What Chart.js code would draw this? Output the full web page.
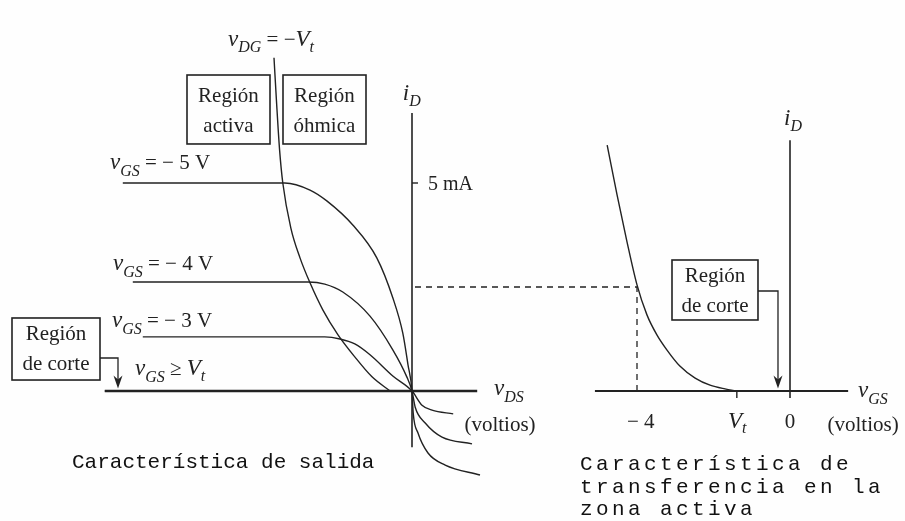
<!DOCTYPE html>
<html>
<head>
<meta charset="utf-8">
<script src="https://cdn.jsdelivr.net/npm/chart.js@4.4.1/dist/chart.umd.min.js"></script>
<style>
  html, body { margin: 0; padding: 0; background: #fefefe; }
  #c { display: block; }
</style>
</head>
<body>
<canvas id="c" width="905" height="521"></canvas>
<script>
/* Salida: iD (mA) frente a vDS (V) para cada vGS */
var vds5 = [-7.23, -3.18, -2.55, -2.13, -1.48, -0.88, -0.48, -0.23, -0.10, 0, 0.03, 0.15, 0.40, 0.83, 1.70];
var id5  = [ 5.00,  5.00,  4.83,  4.57,  3.99,  3.20,  2.24,  1.39,  0.63, 0, -0.53, -1.01, -1.49, -1.78, -2.02];
var vds4 = [-6.98, -2.60, -2.18, -1.73, -1.05, -0.48, -0.13, 0, 0.08, 0.33, 0.75, 1.50];
var id4  = [ 2.62,  2.62,  2.57,  2.38,  1.80,  0.99,  0.34, 0, -0.39, -0.77, -1.11, -1.27];
var vds3 = [-6.73, -2.18, -1.80, -1.43, -1.05, -0.48, 0, 0.25, 0.50, 1.03];
var id3  = [ 1.30,  1.30,  1.25,  1.13,  0.87,  0.36, 0, -0.34, -0.46, -0.55];
var vdsCorte = [-7.68, 0];
var idCorte  = [0, 0];

/* Frontera vDG = -Vt */
var vdsLim = [-3.45, -3.39, -3.31, -3.23, -3.03, -2.80, -2.55, -2.23, -1.85, -1.43, -1.00, -0.55];
var idLim  = [ 8.01,  7.00,  5.79,  5.00,  3.92,  3.20,  2.60,  1.95,  1.35,  0.82,  0.34, 0];

/* Transferencia: iD frente a vGS */
var vgsT = [-4.78, -4.52, -4.26, -4.00, -3.74, -3.48, -3.22, -2.88, -2.48, -2.09, -1.70, -1.39];
var idT  = [ 5.91,  4.71,  3.58,  2.55,  1.83,  1.35,  0.99,  0.60,  0.31,  0.14,  0.05, 0];
var Vt = -1.39;
var vgsMarca = -4;          // punto marcado con la discontinua
var idMarca = 2.50;

/* Extensión de los ejes dibujados */
var ejeSalidaX = [-7.68, 1.63];
var ejeSalidaY = [-1.35, 6.68];
var ejeTransfX = [-5.10, 1.52];
var ejeTransfY = [-0.17, 6.03];
var tick5mA = 5;

function pts(xs, ys) {
    return xs.map(function (x, i) { return { x: x, y: ys[i] }; });
}

var INK = '#222';
function curva(xs, ys, eje) {
    return {
        data: pts(xs, ys),
        xAxisID: eje,
        yAxisID: 'y',
        borderColor: INK,
        borderWidth: 1.4,
        pointRadius: 0,
        fill: false,
        cubicInterpolationMode: 'monotone'
    };
}
function recta(xs, ys, eje, ancho, dash) {
    return {
        data: pts(xs, ys),
        xAxisID: eje,
        yAxisID: 'y',
        borderColor: INK,
        borderWidth: ancho || 1.4,
        borderDash: dash || [],
        pointRadius: 0,
        fill: false,
        tension: 0
    };
}

var datasets = [
    recta(ejeSalidaX, [0, 0], 'xL', 2.4),
    recta([0, 0], ejeSalidaY, 'xL', 1.6),
    recta([0, 0.15], [tick5mA, tick5mA], 'xL', 1.4),
    recta(vdsCorte, idCorte, 'xL', 1.4),
    curva(vds5, id5, 'xL'),
    curva(vds4, id4, 'xL'),
    curva(vds3, id3, 'xL'),
    curva(vdsLim, idLim, 'xL'),
    recta(ejeTransfX, [0, 0], 'xR', 1.8),
    recta([0, 0], ejeTransfY, 'xR', 1.6),
    recta([Vt, Vt], [0, -0.17], 'xR', 1.4),
    recta([vgsMarca, vgsMarca], [0, idMarca], 'xR', 1.3, [6, 5]),
    curva(vgsT, idT, 'xR')
];

var SERIF = '"Liberation Serif", "DejaVu Serif", serif';
var VAR = 'italic 23px ' + SERIF;
var SUB = 'italic 16px ' + SERIF;
var ROM = '21px ' + SERIF;
var MONO = '21px "Liberation Mono", monospace';

function rico(ctx, x, y, partes, centro) {
    var w = 0;
    partes.forEach(function (p) { ctx.font = p[1]; w += ctx.measureText(p[0]).width; });
    var cx = centro ? x - w / 2 : x;
    partes.forEach(function (p) {
        ctx.font = p[1];
        ctx.fillText(p[0], cx, y + (p[2] || 0));
        cx += ctx.measureText(p[0]).width;
    });
}

function flecha(ctx, x0, y0, x1, y1) {
    ctx.beginPath();
    ctx.moveTo(x0, y0); ctx.lineTo(x1, y0); ctx.lineTo(x1, y1 - 8);
    ctx.stroke();
    ctx.beginPath();
    ctx.moveTo(x1, y1); ctx.lineTo(x1 - 4.5, y1 - 13); ctx.lineTo(x1, y1 - 9); ctx.lineTo(x1 + 4.5, y1 - 13);
    ctx.closePath(); ctx.fill();
}

var anotaciones = {
    id: 'anotaciones',
    afterDatasetsDraw: function (chart) {
        var ctx = chart.ctx;
        var xL = chart.scales.xL, xR = chart.scales.xR, y = chart.scales.y;
        function L(v) { return xL.getPixelForValue(v); }
        function R(v) { return xR.getPixelForValue(v); }
        function Y(v) { return y.getPixelForValue(v); }
        ctx.save();
        ctx.fillStyle = INK;
        ctx.strokeStyle = INK;
        ctx.textBaseline = 'alphabetic';

        // discontinua horizontal entre los dos paneles
        ctx.lineWidth = 1.3;
        ctx.setLineDash([6, 5]);
        ctx.beginPath();
        ctx.moveTo(L(0) + 3, Y(idMarca));
        ctx.lineTo(R(vgsMarca), Y(idMarca));
        ctx.stroke();
        ctx.setLineDash([]);

        // recuadros
        ctx.lineWidth = 1.6;
        ctx.strokeRect(L(-5.625), Y(7.596), L(-3.55) - L(-5.625), Y(5.938) - Y(7.596));
        ctx.strokeRect(L(-3.225), Y(7.596), L(-1.15) - L(-3.225), Y(5.938) - Y(7.596));
        ctx.strokeRect(L(-10), Y(1.755), L(-7.8) - L(-10), Y(0.264) - Y(1.755));
        ctx.strokeRect(R(-3.085), Y(3.149), R(-0.837) - R(-3.085), Y(1.707) - Y(3.149));
        ctx.lineWidth = 1.3;
        flecha(ctx, L(-7.8), Y(0.793), L(-7.35), Y(0.06));
        flecha(ctx, R(-0.837), Y(2.404), R(-0.314), Y(0.06));

        ctx.textAlign = 'center';
        ctx.font = ROM;
        ctx.fillText('Región', L(-4.59), Y(6.95));
        ctx.fillText('activa', L(-4.59), Y(6.23));
        ctx.fillText('Región', L(-2.19), Y(6.95));
        ctx.fillText('óhmica', L(-2.19), Y(6.23));
        ctx.fillText('Región', L(-8.9), Y(1.226));
        ctx.fillText('de corte', L(-8.9), Y(0.505));
        ctx.fillText('Región', R(-1.96), Y(2.62));
        ctx.fillText('de corte', R(-1.96), Y(1.90));
        ctx.fillText('(voltios)', L(2.2), Y(-0.96));
        ctx.fillText('(voltios)', R(1.91), Y(-0.96));
        ctx.fillText('\u2212 4', R(-3.9), Y(-0.89));
        ctx.fillText('0', R(0), Y(-0.89));

        ctx.textAlign = 'left';
        ctx.font = '20px ' + SERIF;
        ctx.fillText('5 mA', L(0.4), Y(4.83));

        rico(ctx, L(-4.6), Y(8.29), [['v', VAR], ['DG', SUB, 6], [' = \u2212', ROM], ['V', VAR], ['t', SUB, 6]]);
        rico(ctx, L(-0.23), Y(7.0), [['i', VAR], ['D', SUB, 6]]);
        rico(ctx, L(-7.55), Y(5.34), [['v', VAR], ['GS', SUB, 7], [' = \u2212 5 V', ROM]]);
        rico(ctx, L(-7.475), Y(2.91), [['v', VAR], ['GS', SUB, 7], [' = \u2212 4 V', ROM]]);
        rico(ctx, L(-7.5), Y(1.54), [['v', VAR], ['GS', SUB, 7], [' = \u2212 3 V', ROM]]);
        rico(ctx, L(-6.925), Y(0.385), [['v', VAR], ['GS', SUB, 7], [' \u2265 ', ROM], ['V', VAR], ['t', SUB, 6]]);
        rico(ctx, L(2.05), Y(-0.096), [['v', VAR], ['DS', SUB, 7]]);
        rico(ctx, R(-0.157), Y(6.39), [['i', VAR], ['D', SUB, 6]]);
        rico(ctx, R(1.78), Y(-0.144), [['v', VAR], ['GS', SUB, 7]]);
        rico(ctx, R(-1.62), Y(-0.89), [['V', VAR], ['t', SUB, 5]]);

        // pies de figura
        ctx.font = MONO;
        ctx.fillStyle = '#111';
        ctx.fillText('Característica de salida', L(-8.5), Y(-1.85));
        ctx.letterSpacing = '3.4px';
        ctx.fillText('Característica de', R(-5.49), Y(-1.90));
        ctx.fillText('transferencia en la', R(-5.49), Y(-2.45));
        ctx.fillText('zona activa', R(-5.49), Y(-2.98));
        ctx.restore();
    }
};

var chart = new Chart(document.getElementById('c').getContext('2d'), {
    type: 'line',
    data: { datasets: datasets },
    options: {
        responsive: false,
        animation: false,
        events: [],
        layout: { padding: 0 },
        plugins: { legend: { display: false }, tooltip: { enabled: false } },
        scales: {
            xL: { type: 'linear', axis: 'x', display: false, min: -10.3, max: 12.325 },
            xR: { type: 'linear', axis: 'x', display: false, min: -20.6536, max: 3.0065 },
            y:  { type: 'linear', display: false, min: -3.125, max: 9.399 }
        }
    },
    plugins: [anotaciones]
});
</script>
</body>
</html>
